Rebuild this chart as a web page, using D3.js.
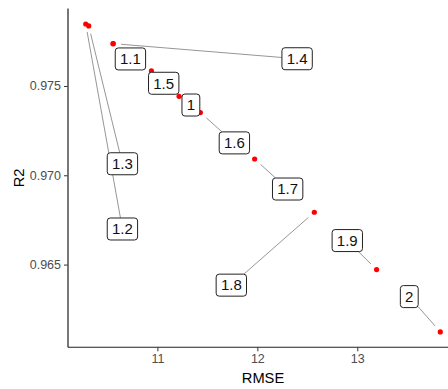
<!DOCTYPE html>
<html>
<head>
<meta charset="utf-8">
<script src="https://cdn.jsdelivr.net/npm/d3@7"></script>
<style>
  html, body { margin: 0; padding: 0; background: #fff; }
  svg { display: block; font-family: "Liberation Sans", Arial, sans-serif; }
</style>
</head>
<body>
<svg id="chart" width="448" height="389"></svg>
<script>
// Parameter values with their model fit metrics
const params = ["1", "1.1", "1.2", "1.3", "1.4", "1.5", "1.6", "1.7", "1.8", "1.9", "2"];
const rmse   = [11.217, 10.557, 10.283, 10.313, 10.557, 10.94, 11.43, 11.973, 12.57, 13.193, 13.83];
const r2     = [0.97442, 0.97737, 0.97847, 0.97836, 0.97737, 0.97584, 0.97351, 0.97091, 0.96793, 0.96472, 0.96123];
const yTicks = [0.965, 0.970, 0.975];
const xTicks = [11, 12, 13];

// Label placement (pixel offset of each label centre from its point)
const labelOffsets = [
  [11.8, 8.7], [17.3, 15.3], [36.7, 205], [33.7, 137.8], [184, 15.1], [12.3, 12.3],
  [34, 30.3], [33, 30], [-83, 72.9], [-29.3, -29], [-31, -35.3]
];

const svg = d3.select("#chart");
const plotLeft = 68, plotRight = 458, plotTop = 8.6, plotBottom = 347.3;

function expand(ext, f) {
  const d = (ext[1] - ext[0]) * f;
  return [ext[0] - d, ext[1] + d];
}

const x = d3.scaleLinear().domain(expand(d3.extent(rmse), 0.05)).range([plotLeft, plotRight]);
const y = d3.scaleLinear().domain(expand(d3.extent(r2), 0.05)).range([plotBottom, plotTop]);

// Axes
const xAxis = svg.append("g").attr("transform", `translate(0,${plotBottom})`)
  .call(d3.axisBottom(x).tickValues(xTicks).tickFormat(d3.format("d")).tickSize(4).tickPadding(3));
const yAxis = svg.append("g").attr("transform", `translate(${plotLeft},0)`)
  .call(d3.axisLeft(y).tickValues(yTicks).tickFormat(d3.format(".3f")).tickSize(4).tickPadding(3));

[xAxis, yAxis].forEach(g => {
  g.select(".domain").remove();
  g.selectAll(".tick line").attr("stroke", "#333").attr("stroke-width", 1);
  g.selectAll(".tick text").attr("fill", "#4D4D4D").style("font-size", "12.5px")
    .style("font-family", "'Liberation Sans', Arial, sans-serif");
});

svg.append("line").attr("x1", plotLeft).attr("x2", plotLeft).attr("y1", plotTop).attr("y2", plotBottom)
  .attr("stroke", "#555").attr("stroke-width", 1.6);
svg.append("line").attr("x1", plotLeft).attr("x2", 448).attr("y1", plotBottom).attr("y2", plotBottom)
  .attr("stroke", "#222").attr("stroke-width", 1.1);

// Axis titles
svg.append("text").attr("x", (plotLeft + plotRight) / 2).attr("y", 383)
  .attr("text-anchor", "middle").style("font-size", "14.7px").attr("fill", "#000").text("RMSE");
svg.append("text").attr("transform", `translate(24,${(plotTop + plotBottom) / 2}) rotate(-90)`)
  .attr("text-anchor", "middle").style("font-size", "14.7px").attr("fill", "#000").text("R2");

// Label geometry
const data = params.map((p, i) => {
  const px = x(rmse[i]), py = y(r2[i]);
  const cx = px + labelOffsets[i][0], cy = py + labelOffsets[i][1];
  return { p, px, py, cx, cy };
});

const fontPx = 15;
const measure = svg.append("text").style("font-size", fontPx + "px").attr("visibility", "hidden");
data.forEach(d => {
  measure.text(d.p);
  d.w = measure.node().getComputedTextLength() + 9.5;
  d.h = 22;
});
measure.remove();

// Connector segments from the box edge toward each point
const segG = svg.append("g");
data.forEach(d => {
  const dx = d.cx - d.px, dy = d.cy - d.py;
  const len = Math.hypot(dx, dy);
  if (len === 0) return;
  const hw = d.w / 2, hh = d.h / 2;
  const tEdge = 1 - Math.min(dx !== 0 ? hw / Math.abs(dx) : Infinity, dy !== 0 ? hh / Math.abs(dy) : Infinity);
  const tStart = 8 / len;
  if (tEdge - tStart <= 6 / len) return;
  segG.append("line")
    .attr("x1", d.px + dx * tStart).attr("y1", d.py + dy * tStart)
    .attr("x2", d.px + dx * tEdge).attr("y2", d.py + dy * tEdge)
    .attr("stroke", "#8a8a8a").attr("stroke-width", 0.9);
});

// Points
svg.append("g").selectAll("circle").data(data).join("circle")
  .attr("cx", d => d.px).attr("cy", d => d.py).attr("r", 2.6).attr("fill", "#FF0000");

// Labels
const lab = svg.append("g").selectAll("g").data(data).join("g");
lab.append("rect")
  .attr("x", d => d.cx - d.w / 2).attr("y", d => d.cy - d.h / 2)
  .attr("width", d => d.w).attr("height", d => d.h).attr("rx", 3)
  .attr("fill", "#fff").attr("stroke", "#222").attr("stroke-width", 1);
lab.append("text")
  .attr("x", d => d.cx).attr("y", d => d.cy + 5.3)
  .attr("text-anchor", "middle").style("font-size", fontPx + "px").attr("fill", "#111")
  .text(d => d.p);
</script>
</body>
</html>
